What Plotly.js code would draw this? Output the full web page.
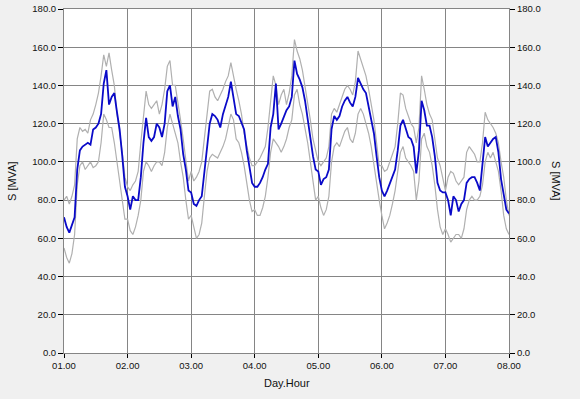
<!DOCTYPE html>
<html><head><meta charset="utf-8">
<script src="https://cdn.plot.ly/plotly-3.0.1.min.js"></script>
<style>html,body{margin:0;padding:0;background:#f0f0f0;overflow:hidden;}</style>
</head><body><div id="chart" style="width:580px;height:399px;"></div>
<script>
// ---- data (hourly readings, days 01.00 .. 08.00) ----
const dayTicks = [1, 2, 3, 4, 5, 6, 7, 8];
const dayTickLabels = ['01.00', '02.00', '03.00', '04.00', '05.00', '06.00', '07.00', '08.00'];
const yTicks = [0, 20, 40, 60, 80, 100, 120, 140, 160, 180];
const hoursPerDay = 24;

const blueS = [
  71, 66, 63, 67, 71, 96, 106, 108, 109, 110, 109, 117, 118, 120, 125, 141, 148, 130, 134, 136, 126, 117, 103, 87,
  82, 75, 82, 80, 80, 92, 110, 123, 113, 111, 113, 120, 118, 113, 120, 137, 140, 129, 134, 124, 117, 104, 96, 85,
  84, 78, 77, 80, 82, 94, 108, 120, 125, 124, 122, 118, 125, 129, 134, 142, 134, 125, 124, 120, 117, 106, 97, 89,
  87, 87, 89, 92, 96, 99, 118, 125, 141, 117, 120, 124, 127, 129, 134, 153, 146, 143, 139, 132, 122, 111, 103, 96,
  95, 88, 91, 92, 96, 117, 124, 122, 124, 129, 132, 134, 131, 129, 134, 144, 141, 138, 136, 129, 122, 115, 103, 92,
  85, 82, 85, 89, 92, 96, 106, 119, 122, 117, 113, 112, 108, 94, 106, 132, 127, 119, 119, 113, 103, 89, 85, 84,
  84, 80, 72, 82, 80, 74, 78, 80, 89, 91, 92, 92, 89, 85, 99, 113, 108, 110, 112, 113, 105, 91, 84, 75,
  73
];
const upperS = [
  80, 82, 78, 82, 88, 112, 118, 116, 117, 115, 122, 125, 130, 136, 145, 156, 150, 157, 148, 140, 125, 115, 105, 92,
  87, 85, 88, 90, 95, 110, 125, 137, 130, 128, 130, 132, 125, 130, 138, 150, 153, 140, 140, 132, 122, 112, 102, 90,
  95, 90, 92, 95, 100, 112, 125, 137, 138, 134, 132, 135, 138, 142, 145, 152, 144, 138, 132, 125, 115, 108, 102, 98,
  98, 100, 102, 105, 108, 118, 130, 145, 140, 130, 135, 138, 130, 136, 145, 164, 158, 154, 148, 140, 130, 122, 112, 105,
  100, 98, 100, 102, 108, 125, 128, 126, 130, 134, 138, 140, 138, 135, 142, 158, 154, 150, 145, 138, 130, 122, 110, 98,
  98, 95, 96, 100, 104, 108, 120, 136, 135, 128, 124, 120, 118, 110, 118, 145, 138, 130, 125, 122, 112, 102, 98, 92,
  85, 92, 95, 94, 90, 88, 90, 92, 105, 108, 106, 104, 100, 100, 110, 126, 122, 120, 118, 115, 110, 100, 92, 80,
  72
];
const lowerS = [
  55, 50, 47, 52, 62, 88, 98, 100, 96, 98, 100, 97, 98, 100, 110, 125, 122, 118, 118, 110, 100, 90, 78, 70,
  70, 64, 62, 66, 72, 80, 95, 100, 98, 95, 98, 100, 100, 98, 105, 118, 125, 120, 115, 110, 100, 92, 80, 70,
  72, 65, 60, 62, 68, 82, 95, 102, 104, 103, 102, 105, 108, 112, 118, 125, 122, 112, 110, 105, 98, 88, 80, 74,
  75, 72, 72, 76, 82, 92, 105, 112, 110, 108, 105, 108, 112, 118, 122, 135, 138, 130, 125, 118, 110, 100, 90, 80,
  82, 76, 72, 75, 82, 100, 108, 110, 108, 112, 116, 118, 112, 110, 115, 125, 128, 125, 120, 115, 108, 98, 88, 80,
  72, 65, 68, 72, 78, 85, 95, 105, 108, 102, 100, 98, 95, 80, 90, 112, 115, 108, 105, 98, 88, 75, 66, 62,
  65, 62, 58, 60, 62, 62, 60, 65, 75, 80, 82, 80, 80, 82, 88, 100, 105, 102, 105, 100, 95, 85, 72, 65,
  62
];

const time = blueS.map((_, i) => 1 + i / hoursPerDay);

const tickFont = {family: 'Liberation Sans, Arial, sans-serif', size: 9.5, color: '#111'};
const titleFont = {family: 'Liberation Sans, Arial, sans-serif', size: 11, color: '#111'};

const traces = [
  {x: time, y: upperS, type: 'scatter', mode: 'lines', line: {color: '#b0b0b0', width: 1.2}, hoverinfo: 'skip', showlegend: false},
  {x: time, y: lowerS, type: 'scatter', mode: 'lines', line: {color: '#b0b0b0', width: 1.2}, hoverinfo: 'skip', showlegend: false},
  {x: time, y: blueS, type: 'scatter', mode: 'lines', yaxis: 'y2', line: {color: '#0a0ac8', width: 1.8}, hoverinfo: 'skip', showlegend: false}
];

const yCommon = {
  range: [0, 180], tickvals: yTicks, tickformat: '.1f', ticks: 'outside', ticklen: 5,
  tickcolor: '#000', tickfont: tickFont, zeroline: false, fixedrange: true
};

const layout = {
  width: 580, height: 399,
  margin: {l: 64, r: 71, t: 9, b: 46, pad: 0},
  paper_bgcolor: '#f0f0f0', plot_bgcolor: '#ffffff',
  showlegend: false,
  xaxis: {
    range: [1, 8], tickvals: dayTicks, ticktext: dayTickLabels, ticks: 'outside', ticklen: 4,
    tickcolor: '#000', tickfont: tickFont, showgrid: true, gridcolor: '#858585', gridwidth: 1,
    showline: true, linecolor: '#858585', linewidth: 1, mirror: true, zeroline: false, fixedrange: true
  },
  yaxis: Object.assign({}, yCommon, {
    side: 'left', showgrid: true, gridcolor: '#858585', gridwidth: 1,
    showline: true, linecolor: '#858585', linewidth: 1, mirror: true
  }),
  yaxis2: Object.assign({}, yCommon, {
    side: 'right', overlaying: 'y', showgrid: false, showline: false
  }),
  annotations: [
    {text: 'S [MVA]', xref: 'paper', yref: 'paper', x: 0, y: 0.5, xshift: -52, textangle: -90,
     showarrow: false, font: titleFont, xanchor: 'center', yanchor: 'middle'},
    {text: 'S [MVA]', xref: 'paper', yref: 'paper', x: 1, y: 0.5, xshift: 47, textangle: 90,
     showarrow: false, font: titleFont, xanchor: 'center', yanchor: 'middle'},
    {text: 'Day.Hour', xref: 'paper', yref: 'paper', x: 0.5, y: 0, yshift: -30,
     showarrow: false, font: titleFont, xanchor: 'center', yanchor: 'middle'}
  ]
};

Plotly.newPlot('chart', traces, layout, {staticPlot: true, displayModeBar: false});
</script>
</body></html>
